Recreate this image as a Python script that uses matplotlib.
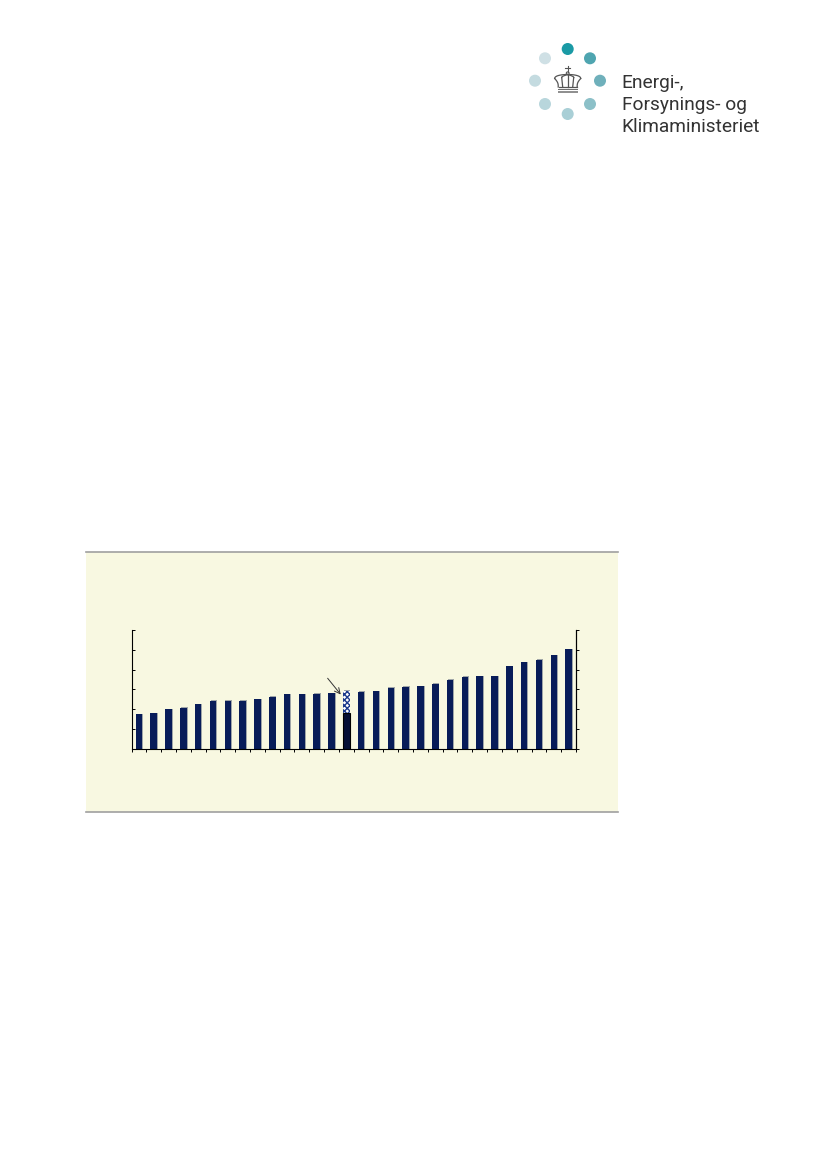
import numpy as np
import matplotlib.pyplot as plt
from matplotlib.patches import Rectangle, Circle

# Data (bar heights, arbitrary units 0-6)
values = [1.74, 1.79, 1.99, 2.06, 2.24, 2.41, 2.41, 2.43, 2.49, 2.61,
          2.75, 2.75, 2.78, 2.81, 1.79, 2.88, 2.90, 3.08, 3.13, 3.15,
          3.29, 3.49, 3.64, 3.67, 3.67, 4.16, 4.37, 4.48, 4.72, 5.02]
special_idx = 14
special_top = 2.92
y_ticks = [0, 1, 2, 3, 4, 5, 6]
logo_lines = ['Energi-,', 'Forsynings- og', 'Klimaministeriet']

navy = '#081c58'

fig = plt.figure(figsize=(8.27, 11.69), dpi=100)

# Background layer in pixel coordinates (panel + logo)
bg = fig.add_axes([0, 0, 1, 1])
bg.set_xlim(0, 827)
bg.set_ylim(1169, 0)
bg.axis('off')

bg.add_patch(Rectangle((86, 552), 532, 260, facecolor='#f8f8e1', edgecolor='none'))
bg.plot([86, 618], [552, 552], color='#a0a0a0', lw=1.2)
bg.plot([86, 618], [812, 812], color='#a0a0a0', lw=1.2)

# Logo circles
circles = [(567.7, 49, '#1a9aa5'), (590, 58.3, '#4fa5b0'), (600, 80.7, '#6fb0bb'),
           (590, 104, '#8cc0c8'), (567.7, 114, '#a9cfd6'), (545, 104, '#b8d6dc'),
           (535, 80.7, '#c4dbe0'), (545, 58.3, '#cfe0e5')]
for cx, cy, c in circles:
    bg.add_patch(Circle((cx, cy), 6, facecolor=c, edgecolor='none'))

# Crown (simplified)
cc = '#555555'
cx0 = 567.7
bg.add_patch(Rectangle((557.5, 88.5), 20.5, 1.8, facecolor='#707070', edgecolor='none'))
bg.add_patch(Rectangle((557.5, 91.2), 20.5, 1.8, facecolor='#909090', edgecolor='none'))
t = np.linspace(0, 1, 40)
for s in (-1, 1):
    # outer arch
    xs = cx0 + s * 13 * np.sin(t * np.pi / 2)
    ys = 74.5 + 4 * t ** 2
    bg.plot(xs, ys, color=cc, lw=0.9)
    u = np.linspace(0, 1, 20)
    bg.plot(cx0 + s * (13 - 3.5 * u - 1.2 * np.sin(u * np.pi)), 78.5 + 8.5 * u, color=cc, lw=0.9)
    # inner arch
    xs = cx0 + s * 6 * np.sin(t * np.pi / 2)
    ys = 74.5 + 3 * t
    bg.plot(xs, ys, color=cc, lw=0.9)
    bg.plot([cx0 + s * 6, cx0 + s * 5], [77.5, 87], color=cc, lw=0.9)
bg.plot([cx0, cx0], [74.5, 87], color=cc, lw=0.9)
bg.plot([558.5, 577], [87, 87], color=cc, lw=0.9)
bg.add_patch(Circle((cx0, 73.3), 1.4, facecolor='white', edgecolor=cc, lw=0.8))
bg.plot([cx0, cx0], [65.5, 71.5], color=cc, lw=0.8)
bg.plot([565.3, 570.1], [68.3, 68.3], color=cc, lw=0.8)

for i, line in enumerate(logo_lines):
    bg.text(621.5, 88.3 + i * 21.7, line, fontsize=13.8, family='Roboto',
            color='#333333', va='baseline', ha='left')

# Chart
ax = fig.add_axes([131.5 / 827, 1 - 748.7 / 1169, 444.5 / 827, 118.7 / 1169])
ax.set_facecolor('none')
x = np.arange(len(values)) + 0.5
heights = np.array(values)
shadow = heights.copy()
shadow[special_idx] = special_top
ax.bar(x + 0.06, shadow + 0.03, width=0.44, color='#a0a6a8', zorder=1)
colors = [navy] * len(values)
colors[special_idx] = '#050f35'
ax.bar(x, heights, width=0.44, color=colors, zorder=2,
       edgecolor=['none' if i != special_idx else 'black' for i in range(len(values))],
       linewidth=0.8)
ax.bar(x[special_idx], special_top - values[special_idx], bottom=values[special_idx],
       width=0.44, color='white', edgecolor='#1b3a8c', hatch='xxxxxx', linewidth=0, zorder=3)

ax.annotate('', xy=(14.24, 2.63), xytext=(13.12, 3.67),
            arrowprops=dict(arrowstyle='->', color='#333333', lw=0.7))

ax.set_xlim(0, len(values))
ax.set_ylim(0, 6)
ax.set_xticks(np.arange(len(values) + 1))
ax.set_yticks(y_ticks)
ax.set_xticklabels([])
ax.set_yticklabels([])
ax.tick_params(axis='x', direction='out', length=2, width=0.7, color='black')
ax.tick_params(axis='y', left=True, right=False, direction='in', length=1.8, width=0.7)
ax.spines['top'].set_visible(False)
for sp in ['left', 'right', 'bottom']:
    ax.spines[sp].set_linewidth(0.8)

# right-hand axis with outward ticks
ax2 = ax.twinx()
ax2.set_ylim(0, 6)
ax2.set_yticks(y_ticks)
ax2.set_yticklabels([])
ax2.tick_params(axis='y', direction='out', length=1.8, width=0.7)
ax2.spines['top'].set_visible(False)
ax2.spines['left'].set_visible(False)
ax2.spines['bottom'].set_visible(False)
ax2.spines['right'].set_linewidth(0.8)

fig.savefig('out.png', dpi=100)
